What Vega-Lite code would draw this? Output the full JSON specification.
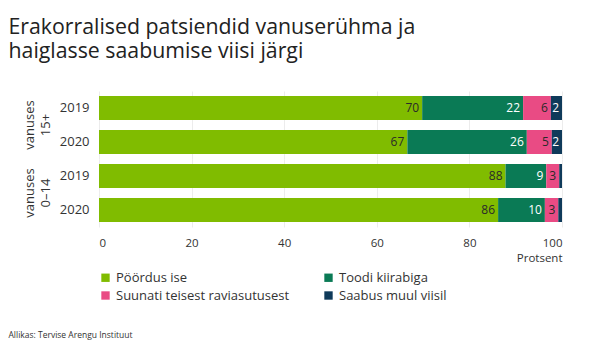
{
  "$schema": "https://vega.github.io/schema/vega-lite/v6.json",
  "padding": {"left": 8, "top": 16, "right": 5, "bottom": 5},
  "background": "white",
  "title": {
    "text": ["Erakorralised patsiendid vanuserühma ja", "haiglasse saabumise viisi järgi"],
    "anchor": "start",
    "font": "Open Sans",
    "fontSize": 21.3,
    "fontWeight": "normal",
    "color": "#222222",
    "lineHeight": 24,
    "offset": 29,
    "frame": "bounds"
  },
  "config": {
    "view": {"stroke": null},
    "font": "Open Sans"
  },
  "spacing": 28,
  "vconcat": [
    {
      "data": {
        "values": [
          {"group": "vanuses 15+", "year": "2019", "cat": "Pöördus ise", "o": 0, "value": 69.8},
          {"group": "vanuses 15+", "year": "2019", "cat": "Toodi kiirabiga", "o": 1, "value": 21.8},
          {"group": "vanuses 15+", "year": "2019", "cat": "Suunati teisest raviasutusest", "o": 2, "value": 6.0},
          {"group": "vanuses 15+", "year": "2019", "cat": "Saabus muul viisil", "o": 3, "value": 2.4},
          {"group": "vanuses 15+", "year": "2020", "cat": "Pöördus ise", "o": 0, "value": 66.6},
          {"group": "vanuses 15+", "year": "2020", "cat": "Toodi kiirabiga", "o": 1, "value": 25.8},
          {"group": "vanuses 15+", "year": "2020", "cat": "Suunati teisest raviasutusest", "o": 2, "value": 5.4},
          {"group": "vanuses 15+", "year": "2020", "cat": "Saabus muul viisil", "o": 3, "value": 2.2},
          {"group": "vanuses 0–14", "year": "2019", "cat": "Pöördus ise", "o": 0, "value": 87.8},
          {"group": "vanuses 0–14", "year": "2019", "cat": "Toodi kiirabiga", "o": 1, "value": 8.8},
          {"group": "vanuses 0–14", "year": "2019", "cat": "Suunati teisest raviasutusest", "o": 2, "value": 2.8},
          {"group": "vanuses 0–14", "year": "2019", "cat": "Saabus muul viisil", "o": 3, "value": 0.6},
          {"group": "vanuses 0–14", "year": "2020", "cat": "Pöördus ise", "o": 0, "value": 86.2},
          {"group": "vanuses 0–14", "year": "2020", "cat": "Toodi kiirabiga", "o": 1, "value": 10.1},
          {"group": "vanuses 0–14", "year": "2020", "cat": "Suunati teisest raviasutusest", "o": 2, "value": 2.9},
          {"group": "vanuses 0–14", "year": "2020", "cat": "Saabus muul viisil", "o": 3, "value": 0.8}
        ]
      },
      "transform": [
        {"stack": "value", "groupby": ["group", "year"], "sort": [{"field": "o", "order": "ascending"}], "as": ["x0", "x1"]}
      ],
      "facet": {
        "row": {
          "field": "group",
          "type": "nominal",
          "sort": ["vanuses 15+", "vanuses 0–14"],
          "title": null,
          "header": {
            "labelExpr": "split(datum.value, ' ')",
            "labelAngle": -90,
            "labelOrient": "left",
            "labelFontSize": 13,
            "labelColor": "#333333",
            "labelPadding": 0,
            "labelLineHeight": 16
          }
        }
      },
      "spacing": 0,
      "spec": {
        "width": 463,
        "height": 68,
        "layer": [
          {
            "mark": {"type": "bar"},
            "encoding": {
              "y": {"field": "year", "type": "nominal", "title": null,
                "scale": {"paddingInner": 0.294, "paddingOuter": 0.147},
                "axis": {"domain": false, "ticks": false, "labelFontSize": 13, "labelColor": "#333333", "labelPadding": 10}},
              "x": {"field": "x0", "type": "quantitative", "scale": {"domain": [0, 100]},
                "title": "Protsent",
                "axis": {"values": [0, 20, 40, 60, 80, 100], "domain": false, "ticks": false, "grid": true, "gridColor": "#ececec",
                  "labelFontSize": 11.5, "labelColor": "#333333", "labelPadding": 10,
                  "titleAnchor": "end", "titleFontSize": 11.5, "titleFontWeight": "normal", "titleColor": "#333333", "titlePadding": 4}},
              "x2": {"field": "x1"},
              "color": {"field": "cat", "type": "nominal",
                "scale": {"domain": ["Pöördus ise", "Toodi kiirabiga", "Suunati teisest raviasutusest", "Saabus muul viisil"],
                  "range": ["#80bc00", "#0a7a55", "#e94b84", "#0f3a5a"]},
                "legend": {"title": null, "orient": "bottom", "direction": "horizontal", "columns": 2, "symbolType": "square",
                  "symbolSize": 70, "symbolStrokeWidth": 0, "labelFontSize": 13, "labelColor": "#333333", "columnPadding": 32, "rowPadding": 4, "labelLimit": 300, "offset": 7}}
            }
          },
          {
            "transform": [{"filter": "datum.value >= 1.5"}],
            "mark": {"type": "text", "align": "right", "baseline": "middle", "dx": -3, "fontSize": 12},
            "encoding": {
              "y": {"field": "year", "type": "nominal"},
              "x": {"field": "x1", "type": "quantitative"},
              "text": {"field": "value", "type": "quantitative", "format": ".0f"},
              "color": {"condition": {"test": "datum.cat === 'Pöördus ise' || datum.cat === 'Suunati teisest raviasutusest'", "value": "#2a2a2a"}, "value": "#ffffff"}
            }
          }
        ]
      }
    },
    {
      "width": 1,
      "height": 8,
      "data": {"values": [{"t": "Allikas: Tervise Arengu Instituut"}]},
      "mark": {"type": "text", "align": "left", "baseline": "middle", "fontSize": 8.5, "color": "#333333", "dx": -91},
      "encoding": {"text": {"field": "t", "type": "nominal"}}
    }
  ],
  "resolve": {"legend": {"color": "independent"}}
}
